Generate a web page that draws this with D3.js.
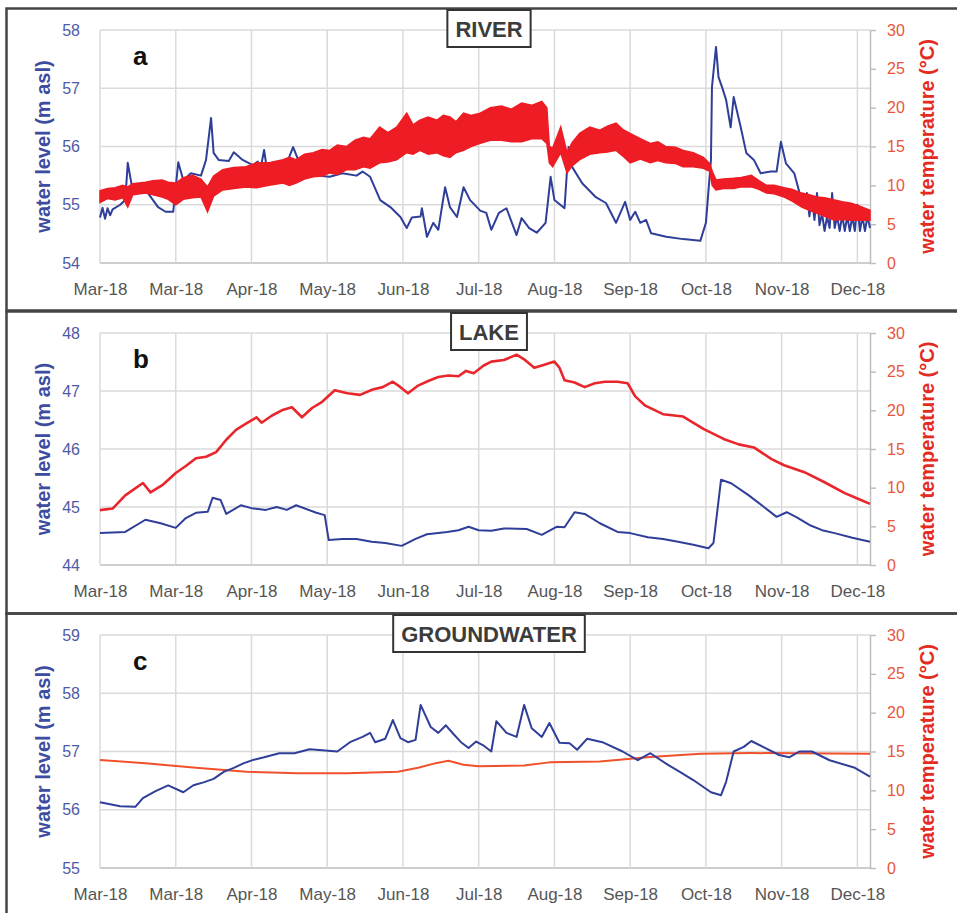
<!DOCTYPE html>
<html>
<head>
<meta charset="utf-8">
<script src="https://cdn.jsdelivr.net/npm/d3@7"></script>
<style>
  body { margin: 0; background: #fff; }
  text { font-family: Arial, "Liberation Sans", sans-serif; }
</style>
</head>
<body>
<div id="chart"></div>
<script>
// x values are days counted from 1 Mar 2018

// a - river: water level (m asl)
const riverLevel = [
  [0,54.78],[1,54.95],[2,54.76],[3,54.94],[4,54.82],[5,54.92],[8,55.0],[10,55.08],[11,55.72],[12.7,55.3],
  [15,55.3],[19,55.2],[23,54.96],[26,54.88],[29,54.88],[31,55.73],[33,55.42],[36,55.54],[40,55.5],[42,55.77],
  [44,56.49],[45,55.89],[47,55.77],[51,55.75],[53,55.9],[56.5,55.77],[60.5,55.68],[62.5,55.74],[63,55.48],[65,55.94],
  [66.5,55.5],[70,55.6],[72,55.5],[76.5,55.99],[78.5,55.77],[81,55.65],[86,55.5],[91,55.48],[96,55.54],[101.6,55.5],
  [104,55.57],[107,55.48],[111,55.08],[115,54.96],[119,54.79],[121.5,54.6],[123.5,54.78],[127,54.8],[127.5,54.94],[129.5,54.45],
  [132,54.69],[134,54.57],[136.7,55.3],[138.6,54.96],[141.4,54.79],[144,55.3],[146.6,55.08],[150.6,54.9],[153,54.86],[155,54.57],
  [158,54.86],[161,54.94],[165,54.48],[167,54.77],[170,54.6],[173,54.52],[176.5,54.69],[178.5,55.48],[180,55.08],[184,54.94],
  [185.6,55.99],[187,55.65],[191,55.37],[196.4,55.13],[200.4,55.03],[204.4,54.69],[208,55.05],[210,54.74],[212,54.88],[214,54.69],
  [216.3,54.74],[218.3,54.51],[224.3,54.45],[231,54.41],[237.8,54.38],[240,54.69],[242,55.77],[242.4,57.02],[244,57.71],[245,57.19],
  [246.4,57.02],[248,56.8],[249.8,56.33],[251,56.85],[253.8,56.33],[256,55.89],[259,55.77],[261.7,55.54],[265.7,55.57],[268,55.57],
  [269.7,56.08],[271.7,55.71],[275,55.54],[277,55.22],[279,54.95],[280,55.2],[281,54.8],[282,55.15],[283,54.74],[284,55.2],
  [285,54.65],[286,54.85],[287,54.55],[288,54.8],[289,54.6],[290,55.2],[291,54.6],[292,54.8],[293,54.55],[294,54.82],
  [295,54.55],[296,54.8],[297,54.55],[298,54.8],[299,54.55],[300,55.0],[301,54.55],[302,54.8],[303,54.55],[304,54.8],[305,54.6]
];

// a - river: water temperature (°C), daily low / high
const riverTemp = [
  [0,7.8,9.3],[3,8.3,9.6],[6,8.1,9.7],[9,8.4,10.0],[11,7.2,9.8],[13,8.8,10.2],[18,9.0,10.4],[21,8.8,10.6],
  [24.6,8.5,10.7],[27,8.2,10.4],[30,7.5,10.3],[33,8.2,11.0],[36.6,8.4,11.3],[40,8.5,10.8],[42.6,6.6,9.8],[45,8.6,11.2],
  [48.6,9.4,12.0],[53,9.6,12.3],[57.8,9.8,12.4],[62,9.7,12.9],[67,10.0,12.9],[72.5,10.3,13.3],[75,10.0,13.6],[77.7,10.3,13.3],
  [81,10.8,14.0],[84.5,11.1,14.2],[88,11.2,14.6],[91,11.6,14.5],[94,11.4,15.2],[97.6,12.0,15.0],[101,12.0,15.8],[104.4,12.4,16.2],
  [107,12.2,16.0],[110.8,12.9,17.5],[114,13.0,16.8],[117.5,13.3,17.5],[121.5,14.2,19.3],[124,14.0,17.8],[126.7,14.5,18.4],[130,14.0,18.8],
  [133.5,14.2,18.4],[136,13.8,19.0],[138.6,13.6,18.8],[141,14.2,18.2],[144,14.5,19.3],[147,15.0,19.0],[150.6,15.4,19.3],[154.6,15.8,20.0],
  [159,15.8,20.2],[163,15.6,19.8],[167,15.6,20.6],[171,16.0,20.3],[175,16.0,20.8],[177,15.4,20.0],[178,12.9,15.0],[179.3,12.4,14.8],
  [182.5,14.2,17.5],[185,11.6,14.2],[187,12.5,15.5],[190,13.3,16.7],[194,14.0,17.5],[198,14.2,17.1],[201,14.3,17.6],[204.4,14.5,18.0],
  [207,13.8,17.2],[210,12.9,16.7],[214,13.4,16.0],[218,12.9,15.4],[221,13.2,15.6],[224,12.9,15.0],[228,12.8,14.9],[231,12.4,14.5],
  [235,12.4,14.2],[239,12.2,13.6],[241.5,11.8,12.8],[242.5,10.0,11.8],[244,9.4,10.7],[247,9.6,10.8],[251,9.6,10.9],[254,9.8,11.0],
  [258,9.8,11.3],[261,9.5,10.6],[264,9.0,10.0],[267,8.9,10.0],[271,8.5,9.7],[274,8.0,9.5],[278,7.2,9.0],[281,6.8,8.8],
  [284,6.4,8.5],[287,6.0,8.4],[291,5.5,8.1],[294,5.6,7.9],[297.6,5.5,7.7],[301,5.5,7.3],[305,5.5,6.8]
];

// b - lake
const lakeLevel = [
  [0,44.55],[10,44.57],[18,44.78],[24,44.72],[30,44.64],[34,44.81],[38,44.9],[42.7,44.92],[44.6,45.16],[47.8,45.12],
  [50,44.88],[55.8,45.03],[60,44.98],[65.7,44.95],[70,45.0],[74,44.95],[77.7,45.03],[85.7,44.9],[89,44.86],[90.6,44.43],
  [96,44.45],[101.6,44.45],[107.6,44.4],[113,44.38],[119.5,44.33],[125,44.45],[129.5,44.53],[137.5,44.57],[142,44.6],[146,44.66],
  [150,44.6],[155,44.59],[160,44.63],[169,44.62],[175,44.52],[181,44.66],[184,44.65],[188,44.91],[192,44.88],[198,44.72],
  [205,44.57],[210,44.55],[217,44.48],[223,44.45],[229,44.4],[235,44.35],[241,44.29],[243,44.38],[246,45.47],[250,45.41],
  [257,45.2],[263,45.0],[268,44.83],[272,44.91],[276,44.82],[281,44.69],[286,44.6],[291,44.55],[298,44.47],[305,44.4]
];
const lakeTemp = [
  [0,7.1],[5,7.3],[10,9.0],[17,10.6],[20,9.4],[25,10.4],[30,11.9],[34,12.8],[38,13.8],[42,14.0],
  [46,14.6],[50,16.2],[54,17.5],[58,18.3],[62,19.1],[64,18.4],[68,19.3],[72,20.0],[76,20.4],[80,19.1],
  [84,20.3],[88,21.1],[93,22.6],[98,22.2],[103,22.0],[108,22.7],[112,23.0],[116,23.7],[119,23.0],[122,22.2],
  [126,23.2],[130,23.8],[134,24.3],[138,24.5],[142,24.4],[145,25.1],[148,24.8],[152,25.8],[155,26.3],[160,26.5],
  [165,27.2],[168,26.6],[172,25.5],[176,25.9],[180,26.3],[182,25.5],[184,23.9],[188,23.6],[192,23.0],[196,23.5],
  [200,23.7],[205,23.7],[209,23.5],[212,21.8],[216,20.6],[223,19.5],[231,19.2],[239,17.6],[247,16.3],[253,15.6],
  [259,15.2],[266,13.7],[271,12.9],[279,12.0],[287,10.7],[295,9.3],[300,8.6],[305,7.9]
];

// c - groundwater
const gwLevel = [
  [0,56.13],[8,56.06],[14,56.05],[17,56.2],[22,56.32],[27,56.42],[33,56.3],[37,56.42],[41,56.47],[45,56.53],
  [49,56.65],[53,56.72],[57,56.8],[61,56.86],[65,56.9],[71,56.97],[77,56.97],[83,57.04],[88,57.02],[94,57.0],
  [99,57.16],[104,57.25],[107,57.32],[109,57.16],[113,57.22],[116,57.54],[119,57.23],[122,57.16],[125,57.2],[127,57.8],
  [131,57.42],[134,57.32],[137,57.45],[140,57.3],[143,57.16],[146,57.06],[149,57.17],[152,57.1],[155,57.0],[157,57.52],
  [161,57.32],[165,57.25],[168,57.8],[171,57.4],[175,57.25],[178,57.49],[182,57.15],[186,57.14],[189,57.03],[193,57.22],
  [199,57.16],[207,57.0],[213,56.85],[218,56.97],[225,56.77],[230,56.64],[235,56.51],[242,56.3],[246,56.25],[248,56.48],
  [251,57.0],[255,57.08],[258,57.18],[263,57.07],[269,56.94],[273,56.9],[277,57.0],[282,57.0],[289,56.85],[299,56.72],[305,56.57]
];
const gwTemp = [
  [0,13.9],[18,13.5],[38,12.9],[58,12.4],[78,12.2],[98,12.2],[118,12.4],[126,12.9],[133,13.5],[138,13.8],
  [144,13.3],[150,13.1],[168,13.2],[178,13.6],[198,13.7],[218,14.3],[238,14.7],[258,14.8],[305,14.7]
];

// axis ticks
const tickDays = [0, 30, 60, 90, 120, 150, 180, 210, 240, 270, 300];
const tempTicks = [0, 5, 10, 15, 20, 25, 30];
const riverTicks = [54, 55, 56, 57, 58];
const lakeTicks = [44, 45, 46, 47, 48];
const gwTicks = [55, 56, 57, 58, 59];

const width = 957, height = 913;
const blue = "#2f3e98";
const start = Date.UTC(2018, 2, 1);
const toDate = (d) => new Date(start + d * 864e5);

const x = d3.scaleUtc()
  .domain([toDate(0), toDate(305)])
  .range([100, 870]);

const svg = d3.select("#chart")
  .append("svg")
  .attr("width", width)
  .attr("height", height);

const panels = [
  { letter: "a", title: "RIVER", frame: 8, top: 30, bottom: 263, ticks: riverTicks,
    level: riverLevel, band: riverTemp, red: "#ee1c24", redOnTop: true },
  { letter: "b", title: "LAKE", frame: 311, top: 333, bottom: 565, ticks: lakeTicks,
    level: lakeLevel, temp: lakeTemp, red: "#e8262b", redWidth: 2.6 },
  { letter: "c", title: "GROUNDWATER", frame: 613, top: 635, bottom: 868, ticks: gwTicks,
    level: gwLevel, temp: gwTemp, red: "#f0502a", redWidth: 2 }
];

panels.forEach((p) => {
  const g = svg.append("g");

  // frame
  g.append("rect")
    .attr("x", 6.5).attr("y", p.frame + 0.5)
    .attr("width", 960).attr("height", 302)
    .style("fill", "none").style("stroke", "#444").style("stroke-width", 2.5);

  const yL = d3.scaleLinear().domain(d3.extent(p.ticks)).range([p.bottom, p.top]);
  const yT = d3.scaleLinear().domain([0, 30]).range([p.bottom, p.top]);

  // grid
  g.append("g").selectAll("line").data(p.ticks).enter()
    .append("line")
      .attr("x1", 100).attr("x2", 870)
      .attr("y1", (d) => yL(d)).attr("y2", (d) => yL(d))
      .style("stroke", (d, i) => i == 0 ? "#bdbdbd" : "#dadada").style("stroke-width", 1.5);
  g.append("g").selectAll("line").data(tickDays).enter()
    .append("line")
      .attr("x1", (d) => x(toDate(d))).attr("x2", (d) => x(toDate(d)))
      .attr("y1", p.top).attr("y2", p.bottom)
      .style("stroke", "#dadada").style("stroke-width", 1.5);

  // axes
  const left = g.append("g")
    .attr("transform", "translate(100,0)")
    .call(d3.axisLeft(yL).tickValues(p.ticks).tickSize(0).tickPadding(20).tickFormat(d3.format("d")));
  left.select(".domain").remove();
  left.selectAll("text").attr("font-size", 16).style("fill", "#4f5aa5");

  const right = g.append("g")
    .attr("transform", "translate(870,0)")
    .call(d3.axisRight(yT).tickValues(tempTicks).tickSize(6).tickPadding(11).tickSizeOuter(0));
  right.select(".domain").style("stroke", "#bdbdbd").style("stroke-width", 1.5);
  right.selectAll("line").style("stroke", "#bdbdbd").style("stroke-width", 1.5);
  right.selectAll("text").attr("font-size", 16).style("fill", "#e8553a");

  const bottom = g.append("g")
    .attr("transform", `translate(0,${p.bottom})`)
    .call(d3.axisBottom(x).tickValues(tickDays.map(toDate)).tickFormat(d3.utcFormat("%b-%y"))
      .tickSize(0).tickPadding(20));
  bottom.select(".domain").remove();
  bottom.selectAll("text").attr("font-size", 17).style("fill", "#555");

  // series
  const levelLine = d3.line()
    .x((d) => x(toDate(d[0])))
    .y((d) => yL(d[1]));
  const tempLine = d3.line()
    .x((d) => x(toDate(d[0])))
    .y((d) => yT(d[1]));
  const tempArea = d3.area()
    .x((d) => x(toDate(d[0])))
    .y0((d) => yT(d[1]))
    .y1((d) => yT(d[2]));

  const drawLevel = () => g.append("path")
    .datum(p.level)
    .attr("d", levelLine)
    .style("fill", "none").style("stroke", blue)
    .style("stroke-width", 2).style("stroke-linejoin", "round");

  const drawTemp = () => {
    if (p.band) {
      g.append("path")
        .datum(p.band)
        .attr("d", tempArea)
        .style("fill", p.red).style("stroke", p.red).style("stroke-width", 1.5)
        .style("stroke-linejoin", "miter");
    } else {
      g.append("path")
        .datum(p.temp)
        .attr("d", tempLine)
        .style("fill", "none").style("stroke", p.red)
        .style("stroke-width", p.redWidth).style("stroke-linejoin", "round");
    }
  };

  if (p.redOnTop) { drawLevel(); drawTemp(); } else { drawTemp(); drawLevel(); }

  // panel letter
  g.append("text")
    .attr("x", 133).attr("y", p.top + 35)
    .attr("font-size", 26).attr("font-weight", "bold")
    .style("fill", "#111")
    .text(p.letter);

  // title box
  const box = g.append("rect");
  const title = g.append("text")
    .attr("x", 489).attr("y", p.frame + 29)
    .attr("text-anchor", "middle")
    .attr("font-size", 22).attr("font-weight", "bold")
    .style("fill", "#3c3c3c")
    .text(p.title);
  const tw = title.node().getComputedTextLength();
  box
    .attr("x", 489 - tw / 2 - 8).attr("y", p.frame + 2)
    .attr("width", tw + 16).attr("height", 37)
    .style("fill", "#fff").style("stroke", "#333").style("stroke-width", 2);

  // axis titles
  const mid = (p.top + p.bottom) / 2;
  g.append("text")
    .attr("transform", `translate(50,${mid})rotate(-90)`)
    .attr("text-anchor", "middle")
    .attr("font-size", 20).attr("font-weight", "bold")
    .style("fill", "#3c4ca0")
    .text("water level (m asl)");
  g.append("text")
    .attr("transform", `translate(934,${mid})rotate(-90)`)
    .attr("text-anchor", "middle")
    .attr("font-size", 20).attr("font-weight", "bold")
    .style("fill", "#e32b1f")
    .text("water temperature (°C)");
});
</script>
</body>
</html>
